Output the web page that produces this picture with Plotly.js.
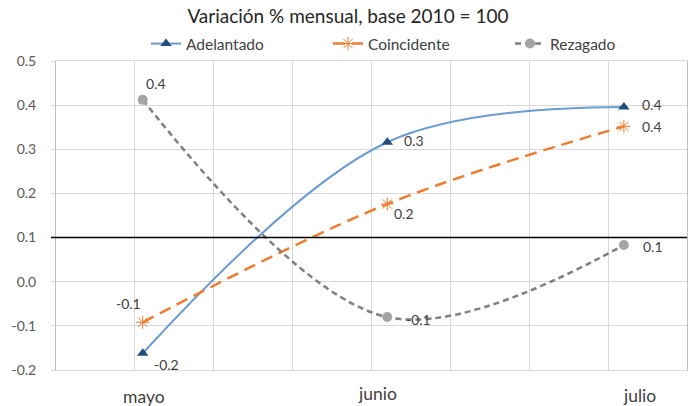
<!DOCTYPE html>
<html>
<head>
<meta charset="utf-8">
<script src="https://cdn.plot.ly/plotly-3.0.1.min.js"></script>
<style>html,body{margin:0;padding:0;background:#fff;}#chart{width:689px;height:406px;}</style>
</head>
<body>
<div id="chart"></div>
<script>
// ---- data ----
const months = ['mayo', 'junio', 'julio'];
const dates = ['2016-05-01', '2016-06-01', '2016-07-01'];
const adelantado = [-0.162, 0.316, 0.396];
const coincidente = [-0.092, 0.176, 0.352];
const rezagado = [0.412, -0.080, 0.083];
const yTicks = [-0.2, -0.1, 0.0, 0.1, 0.2, 0.3, 0.4, 0.5];

// ---- label offsets (styling, px) ----
const offA = [[24, -11], [27, 2], [28, 2]];
const offC = [[-14, 19], [17, -9], [28, 0]];
const offR = [[13, 16], [31, -2], [29, -1]];
const monthOff = [[1, -26], [-10, -23], [16, -25]];

const FONT = 'Lato, "Open Sans", sans-serif';
const txtColor = '#404040';

const traces = [
  {name: 'Adelantado', x: dates, y: adelantado, mode: 'lines+markers', type: 'scatter',
   line: {color: '#6A9BD1', width: 2, shape: 'spline', smoothing: 1},
   marker: {symbol: 'triangle-up', size: 10, color: '#1F4E79'}},
  {name: 'Coincidente', x: dates, y: coincidente, mode: 'lines+markers', type: 'scatter',
   line: {color: '#ED7D31', width: 2.5, dash: '12px,7px', shape: 'spline', smoothing: 1},
   marker: {symbol: 'asterisk-open', size: 11, line: {color: '#ED7D31', width: 1}}},
  {name: 'Rezagado', x: dates, y: rezagado, mode: 'lines+markers', type: 'scatter',
   line: {color: '#7F7F7F', width: 2.5, dash: '6px,4px', shape: 'spline', smoothing: 1},
   marker: {symbol: 'circle', size: 10, color: '#A5A5A5'}}
];

const annotations = [];
function addLabels(vals, offs) {
  vals.forEach((v, i) => {
    annotations.push({x: dates[i], y: v, xref: 'x', yref: 'y', text: v.toFixed(1),
      showarrow: false, xshift: offs[i][0], yshift: offs[i][1],
      font: {family: FONT, size: 14, color: txtColor}});
  });
}
addLabels(adelantado, offA);
addLabels(coincidente, offC);
addLabels(rezagado, offR);
months.forEach((m, i) => {
  annotations.push({x: dates[i], y: 0, xref: 'x', yref: 'paper', text: m, showarrow: false,
    xshift: monthOff[i][0], yshift: monthOff[i][1], yanchor: 'middle',
    font: {family: FONT, size: 17.5, color: txtColor}});
});

const layout = {
  width: 689, height: 406,
  margin: {l: 56, r: 2, t: 61, b: 36},
  paper_bgcolor: '#fff', plot_bgcolor: '#fff',
  font: {family: FONT, color: txtColor},
  title: {text: 'Variación % mensual, base 2010 = 100', x: 0.505, xanchor: 'center',
    y: 1 - 16 / 406, yanchor: 'middle', font: {family: FONT, size: 19, color: '#262626'}},
  showlegend: true,
  legend: {orientation: 'h', xref: 'container', yref: 'container', x: 146 / 689, xanchor: 'left',
    y: 1 - 44 / 406, yanchor: 'middle', entrywidthmode: 'pixels', entrywidth: 137,
    font: {family: FONT, size: 15.5, color: txtColor}, bgcolor: 'rgba(0,0,0,0)'},
  xaxis: {type: 'date', range: ['2016-04-20', '2016-07-09'], tick0: '2016-04-20', dtick: 864000000,
    showticklabels: false, ticks: '', showgrid: true, gridcolor: '#D9D9D9', gridwidth: 1,
    zeroline: false, showline: true, mirror: true, linecolor: '#D9D9D9', linewidth: 1},
  yaxis: {range: [-0.2, 0.5], tickvals: yTicks, ticktext: yTicks.map(v => v.toFixed(1)),
    showgrid: true, gridcolor: '#D9D9D9', gridwidth: 1, zeroline: false,
    showline: true, mirror: true, linecolor: '#BFBFBF', linewidth: 1,
    ticks: 'outside', ticklen: 4, tickcolor: '#D9D9D9', ticklabelstandoff: 12,
    tickfont: {family: FONT, size: 14, color: '#595959'}},
  shapes: [{type: 'line', xref: 'paper', yref: 'y', x0: -0.008, x1: 1, y0: 0.1, y1: 0.1,
    line: {color: '#000000', width: 1.5}}],
  annotations: annotations
};

Plotly.newPlot('chart', traces, layout, {displayModeBar: false, staticPlot: true});
</script>
</body>
</html>
